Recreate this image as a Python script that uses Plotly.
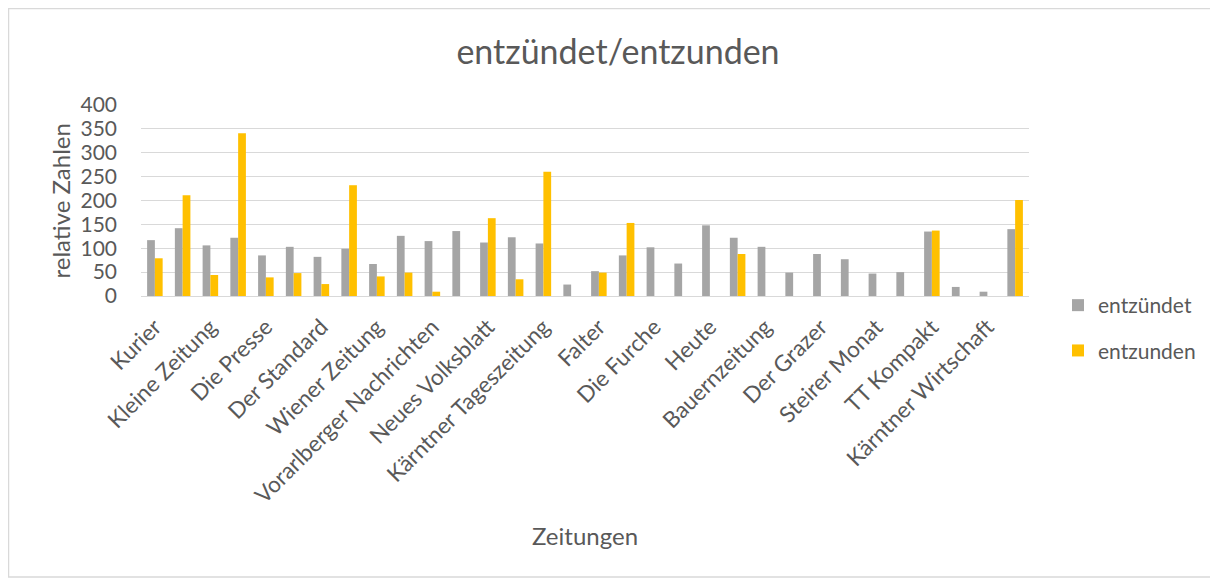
import plotly.graph_objects as go

categories = [
    "Kurier", "Kronen Zeitung", "Kleine Zeitung", "Salzburger Nachrichten",
    "Die Presse", "Oberösterreichische Nachrichten", "Der Standard", "Tiroler Tageszeitung",
    "Wiener Zeitung", "Österreich", "Vorarlberger Nachrichten", "Neue Vorarlberger Tageszeitung",
    "Neues Volksblatt", "Salzburger Volkszeitung", "Kärntner Tageszeitung", "profil",
    "Falter", "News", "Die Furche", "Format",
    "Heute", "Niederösterreichische Nachrichten", "Bauernzeitung", "Burgenländische Volkszeitung",
    "Der Grazer", "Wirtschaftsblatt", "Steirer Monat", "Tiroler Woche",
    "TT Kompakt", "Bezirksblätter", "Kärntner Wirtschaft", "Vorarlberger Wirtschaft",
]
entzuendet = [117, 142, 106, 122, 85, 103, 82, 99, 67, 126, 115, 136, 112, 123, 110, 24,
              52, 85, 102, 68, 148, 122, 103, 49, 88, 77, 47, 50, 135, 19, 9, 140]
entzunden = [79, 211, 44, 341, 39, 48, 25, 232, 41, 49, 9, 0, 163, 35, 260, 0,
             49, 153, 0, 0, 0, 88, 0, 0, 0, 0, 0, 0, 137, 0, 0, 201]
shown_labels = categories[0::2]
y_ticks = [0, 50, 100, 150, 200, 250, 300, 350, 400]

OFF = 8  # page body margin
W, H = 1210, 570
L, R, T, B = 141 - OFF, 1029 - OFF, 105 - OFF, 296 - OFF

def px_x(p):
    return (p - OFF - L) / (R - L)

def px_y(p):
    return (B - (p - OFF)) / (B - T)

GRAY_TXT = "#595959"
fig = go.Figure()
fig.add_trace(go.Bar(x=categories, y=entzuendet, name="entzündet",
                     marker=dict(color="#A5A5A5", line=dict(width=0)), legendgroup="a"))
fig.add_trace(go.Bar(x=categories, y=entzunden, name="entzunden",
                     marker=dict(color="#FFC000", line=dict(width=0)), legendgroup="b"))

fig.update_layout(
    width=W, height=H,
    margin=dict(l=L, r=W - R, t=T, b=H - B, pad=0),
    paper_bgcolor="white", plot_bgcolor="white",
    barmode="group", bargap=0.44, bargroupgap=0,
    font=dict(family="Lato", color=GRAY_TXT, size=21),
    title=dict(text="entzündet/entzunden", xref="container", yref="container",
               x=(618 - OFF) / W, xanchor="center",
               y=1 - 44 / H, yanchor="middle",
               font=dict(family="Lato", size=34, color=GRAY_TXT)),
    legend=dict(x=px_x(1058), xanchor="left", y=px_y(285), yanchor="top",
                font=dict(family="Lato", size=21, color=GRAY_TXT),
                tracegroupgap=15, itemwidth=30, bgcolor="rgba(0,0,0,0)"),
    showlegend=True,
)
fig.update_xaxes(type="category", tickmode="array", tickvals=shown_labels, ticktext=shown_labels,
                 tickangle=-45, showgrid=False, showline=True, linecolor="#D9D9D9", linewidth=1,
                 ticks="", ticklabelstandoff=8,
                 tickfont=dict(family="Lato", size=22.5, color=GRAY_TXT))
fig.update_yaxes(range=[0, 400], tickmode="array", tickvals=y_ticks, showgrid=True,
                 gridcolor="#D9D9D9", gridwidth=1, zeroline=False, showline=False,
                 ticks="", ticklabelstandoff=23,
                 tickfont=dict(family="Lato", size=21, color=GRAY_TXT))

fig.add_annotation(text="relative Zahlen", xref="paper", yref="paper",
                   x=px_x(60), y=px_y(201.5), xanchor="center", yanchor="middle",
                   textangle=-90, showarrow=False,
                   font=dict(family="Lato", size=24, color=GRAY_TXT))
fig.add_annotation(text="Zeitungen", xref="paper", yref="paper",
                   x=px_x(585), y=px_y(535), xanchor="center", yanchor="middle",
                   showarrow=False, font=dict(family="Lato", size=24, color=GRAY_TXT))
fig.add_shape(type="rect", xref="paper", yref="paper",
              x0=px_x(8.5), x1=px_x(1240), y0=px_y(577), y1=px_y(8.5),
              line=dict(color="#D9D9D9", width=1.5), fillcolor="rgba(0,0,0,0)", layer="below")

fig.write_html("out.html")
